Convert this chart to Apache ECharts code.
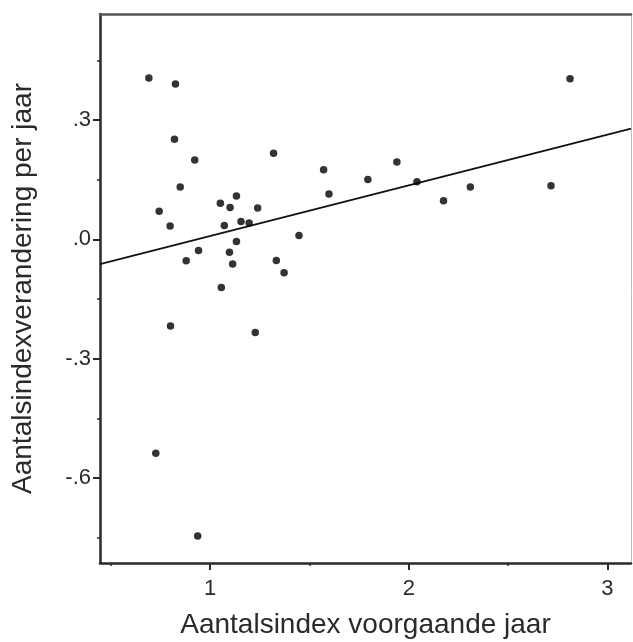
<!DOCTYPE html>
<html>
<head>
<meta charset="utf-8">
<style>
html,body{margin:0;padding:0;background:#fff;}
#c{width:633px;height:642px;}
</style>
<script src="https://cdn.jsdelivr.net/npm/echarts@6/dist/echarts.min.js"></script>
</head>
<body>
<div id="c"></div>
<script>
// Data
const xValues = [0.691,0.825,0.820,0.922,0.849,0.743,0.798,1.051,1.100,1.132,1.239,1.071,1.155,1.196,1.132,0.941,1.097,0.879,1.113,1.333,1.372,1.056,1.319,1.571,1.598,1.447,1.794,1.940,2.041,2.175,2.310,2.716,2.812,0.800,1.227,0.726,0.937];
const yValues = [0.406,0.391,0.252,0.200,0.132,0.071,0.034,0.091,0.080,0.109,0.079,0.035,0.045,0.041,-0.005,-0.028,-0.032,-0.054,-0.062,-0.053,-0.084,-0.121,0.217,0.175,0.114,0.010,0.151,0.195,0.145,0.097,0.132,0.135,0.404,-0.218,-0.234,-0.538,-0.746];
const fitIntercept = -0.1186;
const fitSlope = 0.1273;
const xMajorTicks = [1, 2, 3];
const xMinorTicks = [0.5, 1.5, 2.5];
const yMajorTicks = [-0.6, -0.3, 0, 0.3];
const yMinorTicks = [-0.75, -0.45, -0.15, 0.15, 0.45];
const xTitle = 'Aantalsindex voorgaande jaar';
const yTitle = 'Aantalsindexverandering per jaar';

const X_MIN = 0.445, X_MAX = 3.119, Y_MIN = -0.814, Y_MAX = 0.567;
const FONT = 'Liberation Sans, Arial, sans-serif';
const TXT = '#2a2a2a';
const AX = '#2a2a2a';

const points = xValues.map((x, i) => [x, yValues[i]]);
const fitLine = [X_MIN, X_MAX].map(x => [x, fitIntercept + fitSlope * x]);

const yFmt = v => {
  const s = Number(v).toFixed(1);
  return s.replace('0.', '.');
};

const base = (extra) => Object.assign({
  type: 'value', splitLine: {show: false}
}, extra);

const option = {
  animation: false,
  backgroundColor: '#fff',
  grid: {left: 100, top: 14, right: 2, bottom: 79, containLabel: false, outerBoundsMode: 'none'},
  xAxis: [
    base({
      min: X_MIN, max: X_MAX, position: 'bottom',
      name: xTitle, nameLocation: 'middle', nameGap: 48,
      nameTextStyle: {fontFamily: FONT, fontSize: 28, color: TXT},
      axisLine: {show: true, onZero: false, lineStyle: {color: AX, width: 2.5}},
      axisTick: {show: true, customValues: xMajorTicks, length: 7, lineStyle: {color: AX, width: 2}},
      axisLabel: {show: true, customValues: xMajorTicks, margin: 15, fontFamily: FONT, fontSize: 22, color: TXT}
    }),
    base({
      min: X_MIN, max: X_MAX, position: 'bottom',
      axisLine: {show: false, onZero: false},
      axisTick: {show: true, customValues: xMinorTicks, length: 3, lineStyle: {color: AX, width: 1.5}},
      axisLabel: {show: false}
    }),
    base({
      min: X_MIN, max: X_MAX, position: 'top',
      axisLine: {show: true, onZero: false, lineStyle: {color: '#555', width: 2.5}},
      axisTick: {show: false}, axisLabel: {show: false}
    })
  ],
  yAxis: [
    base({
      min: Y_MIN, max: Y_MAX, position: 'left',
      name: yTitle, nameLocation: 'middle', nameGap: 63, nameRotate: 90,
      nameTextStyle: {fontFamily: FONT, fontSize: 28, color: TXT},
      axisLine: {show: true, onZero: false, lineStyle: {color: AX, width: 2.5}},
      axisTick: {show: true, customValues: yMajorTicks, length: 7, lineStyle: {color: AX, width: 2}},
      axisLabel: {show: true, customValues: yMajorTicks, margin: 9, fontFamily: FONT, fontSize: 22, color: TXT, formatter: yFmt}
    }),
    base({
      min: Y_MIN, max: Y_MAX, position: 'left',
      axisLine: {show: false, onZero: false},
      axisTick: {show: true, customValues: yMinorTicks, length: 3, lineStyle: {color: AX, width: 1.5}},
      axisLabel: {show: false}
    }),
    base({
      min: Y_MIN, max: Y_MAX, position: 'right',
      axisLine: {show: true, onZero: false, lineStyle: {color: '#bdbdbd', width: 1}},
      axisTick: {show: false}, axisLabel: {show: false}
    })
  ],
  series: [
    {
      type: 'line', data: fitLine, xAxisIndex: 0, yAxisIndex: 0,
      showSymbol: false, silent: true, z: 1,
      lineStyle: {color: '#111', width: 1.8}
    },
    {
      type: 'scatter', data: points, xAxisIndex: 0, yAxisIndex: 0,
      symbol: 'circle', symbolSize: 7.5, z: 2,
      itemStyle: {color: '#000'}
    }
  ]
};

const chart = echarts.init(document.getElementById('c'), null, {renderer: 'canvas'});
chart.setOption(option);
</script>
</body>
</html>
